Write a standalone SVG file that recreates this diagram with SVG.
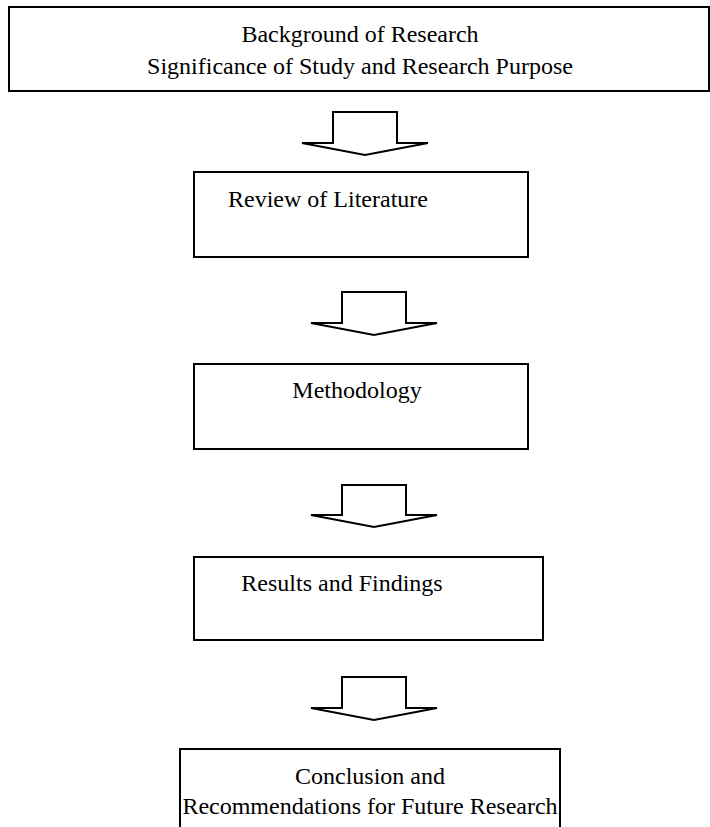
<svg xmlns="http://www.w3.org/2000/svg" width="710" height="827" viewBox="0 0 710 827">
<style>
.box{fill:#fff;stroke:#000;stroke-width:2}
.arr{fill:#fff;stroke:#000;stroke-width:2;stroke-linejoin:miter}
.t{font-family:"Liberation Serif","Times New Roman",serif;font-size:24px;fill:#000;text-anchor:middle}
</style>
<rect width="710" height="827" fill="#fff"/>
<g id="node-background">
<rect class="box" x="9" y="7" width="700" height="84"/>
<text class="t" x="360" y="42">Background of Research</text>
<text class="t" x="360" y="74">Significance of Study and Research Purpose</text>
</g>
<g id="node-review">
<rect class="box" x="194" y="172" width="334" height="85"/>
<text class="t" x="328" y="207">Review of Literature</text>
</g>
<g id="node-methodology">
<rect class="box" x="194" y="364" width="334" height="85"/>
<text class="t" x="357" y="398">Methodology</text>
</g>
<g id="node-results">
<rect class="box" x="194" y="557" width="349" height="83"/>
<text class="t" x="342" y="591">Results and Findings</text>
</g>
<g id="node-conclusion">
<rect class="box" x="180" y="749" width="380" height="90"/>
<text class="t" x="370" y="784">Conclusion and</text>
<text class="t" x="370" y="814">Recommendations for Future Research</text>
</g>
<g id="connectors">
<path class="arr" d="M333,112 H397 V143 H428 L365,155 L302,143 H333 Z"/>
<path class="arr" d="M342,292 H406 V323 H437 L374,335 L311,323 H342 Z"/>
<path class="arr" d="M342,485 H406 V515 H437 L374,527 L311,515 H342 Z"/>
<path class="arr" d="M342,677 H406 V708 H437 L374,720 L311,708 H342 Z"/>
</g>
</svg>
